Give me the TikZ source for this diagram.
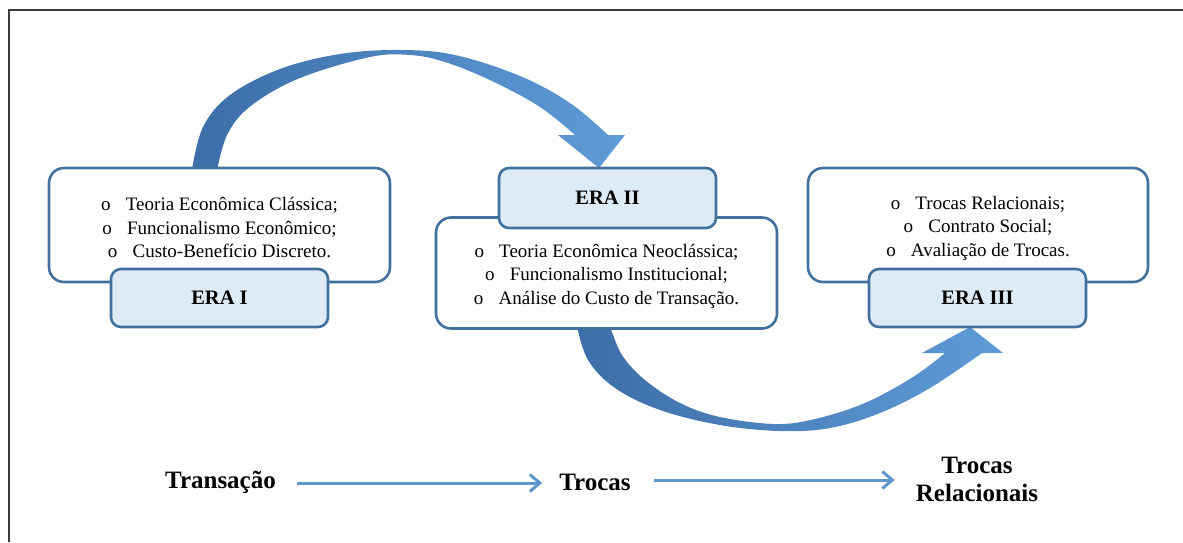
\documentclass[tikz,border=0pt]{standalone}
\usepackage{fontspec}
\setmainfont{Liberation Serif}
\usetikzlibrary{arrows.meta}

\definecolor{boxline}{RGB}{65,113,156}
\definecolor{labelfill}{RGB}{221,235,247}
\definecolor{arcdark}{RGB}{60,110,168}
\definecolor{arclight}{RGB}{95,155,215}
\definecolor{flowblue}{RGB}{95,150,205}
\definecolor{framegray}{RGB}{60,60,60}

\newcommand{\eraitem}[1]{o\hspace{0.8em}#1}

\tikzset{
  listbox/.style={draw=boxline, line width=2.6pt, fill=white, rounded corners=15pt,
    inner sep=0pt},
  listtext/.style={inner sep=0pt, align=center, font=\fontsize{19}{23.5}\selectfont},
  erabox/.style={draw=boxline, line width=2.6pt, fill=labelfill, rounded corners=10pt,
    inner sep=0pt, minimum width=217pt, font=\fontsize{20.5}{24}\selectfont\bfseries},
  stage/.style={inner sep=0pt, align=center, font=\fontsize{25}{28}\selectfont\bfseries},
  flow/.style={draw=flowblue, line width=3pt,
    -{Straight Barb[length=10pt,width=17pt,line width=3pt]}},
  bigarc/.style={left color=arcdark, right color=arclight}
}

\begin{document}
\begin{tikzpicture}[x=1pt,y=-1pt]
\useasboundingbox (0,0) rectangle (1183,542);

% outer frame (left and top edges)
\draw[framegray, line width=2pt] (9,542) -- (9,10) -- (1183,10);

% curved arrow from ERA I over to ERA II
\shade[bigarc]
  plot[smooth, tension=0.6] coordinates {(192,170) (203,127) (230,95) (280,69) (340,54) (400,50) (455,55) (520,76) (570,103) (608,135)}
  -- (625,135) -- (599,168) -- (558,135) -- (575,135)
  -- plot[smooth, tension=0.6] coordinates {(575,135) (540,107) (492,81) (445,62) (410,55) (370,57) (300,78) (252,105) (228,133) (217,170)}
  -- cycle;

% curved arrow from ERA II down and up to ERA III
\shade[bigarc]
  plot[smooth, tension=0.6] coordinates {(577,326) (588,360) (615,388) (660,410) (720,425) (780,431) (830,428) (880,413) (930,388) (982,353)}
  -- (1003,353) -- (970,327) -- (922,353) -- (945,353)
  -- plot[smooth, tension=0.6] coordinates {(945,353) (913,377) (865,403) (815,419) (775,424) (720,417) (680,403) (645,380) (622,355) (610,326)}
  -- cycle;

% ERA I
\node[listbox, minimum width=341pt, minimum height=114pt] (era1list) at (219.5,225) {};
\node[listtext] (era1text) at ([yshift=-3pt]era1list.center)
  {\eraitem{Teoria Econômica Clássica;}\\
   \eraitem{Funcionalismo Econômico;}\\
   \eraitem{Custo-Benefício Discreto.}};
\node[erabox, minimum height=58pt] (era1) at (219.5,298) {ERA I};

% ERA II
\node[listbox, minimum width=341pt, minimum height=111pt] (era2list) at (606.5,273) {};
\node[listtext] (era2text) at ([yshift=-3pt]era2list.center)
  {\eraitem{Teoria Econômica Neoclássica;}\\
   \eraitem{Funcionalismo Institucional;}\\
   \eraitem{Análise do Custo de Transação.}};
\node[erabox, minimum height=60pt] (era2) at (607.5,198) {ERA II};

% ERA III
\node[listbox, minimum width=340pt, minimum height=114pt] (era3list) at (978,225) {};
\node[listtext] (era3text) at ([yshift=-3pt]era3list.center)
  {\eraitem{Trocas Relacionais;}\\
   \eraitem{Contrato Social;}\\
   \eraitem{Avaliação de Trocas.}};
\node[erabox, minimum height=58pt] (era3) at (977.5,298) {ERA III};

% evolution line at the bottom
\node[stage] (transacao) at (220.5,482) {Transação};
\node[stage] (trocas) at (595,482) {Trocas};
\node[stage] (relacionais) at (977,479) {Trocas\\Relacionais};

\draw[flow] ([xshift=21pt,yshift=-1pt]transacao.east) -- ([xshift=-17pt,yshift=-1pt]trocas.west);
\draw[flow] ([xshift=23pt,yshift=2pt]trocas.east) -- ([xshift=-21pt,yshift=2pt]trocas.east -| relacionais.west);
\end{tikzpicture}
\end{document}
